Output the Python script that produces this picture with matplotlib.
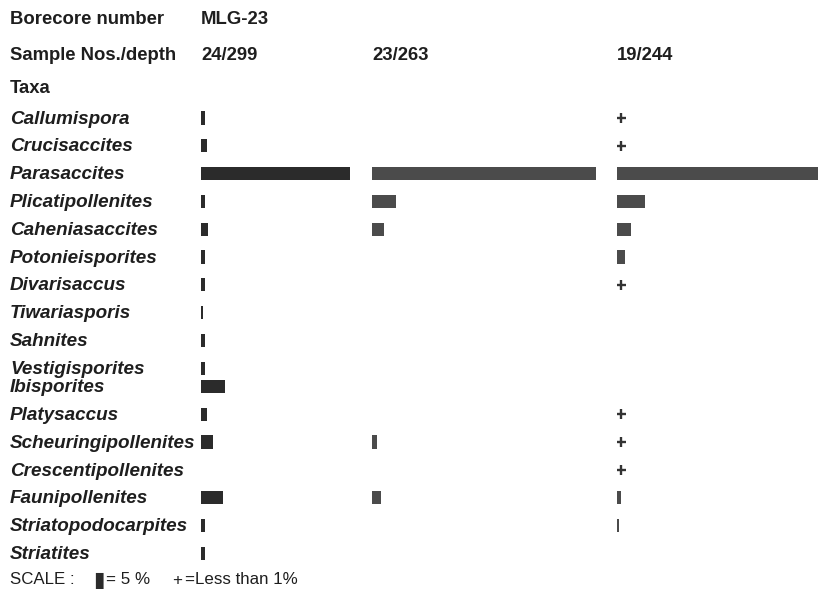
import numpy as np
import matplotlib.pyplot as plt

plt.rcParams['font.family'] = ['Liberation Sans', 'DejaVu Sans']

# Percent frequency of each taxon per sample ('+' = less than 1 %, None = absent)
taxa = ['Callumispora', 'Crucisaccites', 'Parasaccites', 'Plicatipollenites',
        'Caheniasaccites', 'Potonieisporites', 'Divarisaccus', 'Tiwariasporis',
        'Sahnites', 'Vestigisporites', 'Ibisporites', 'Platysaccus',
        'Scheuringipollenites', 'Crescentipollenites', 'Faunipollenites',
        'Striatopodocarpites', 'Striatites']
borecore = 'MLG-23'
samples = ['24/299', '23/263', '19/244']
sample_24 = [1.5, 2.2, 55, 1.5, 2.6, 1.5, 1.5, 0.8, 1.5, 1.5, 9.0, 2.2, 4.4,
             None, 8.2, 1.5, 1.5]
sample_23 = [None, None, 83, 8.8, 4.4, None, None, None, None, None, None, None,
             1.8, None, 3.3, None, None]
sample_19 = ['+', '+', 78, 10.4, 5.2, 3.0, '+', None, None, None, None, '+', '+',
             '+', 1.5, 0.8, None]

W, H = 818, 598
PX_PER_PCT = 2.7
ROW0, PITCH = 118, 27.8
col_left = [201, 372, 617]
col_colors = ['#2b2b2b', '#4b4b4b', '#4b4b4b']
TXT = '#1e1e1e'

n = len(taxa)
idx = np.arange(n)
# rows after Vestigisporites sit a little tighter
row_pos = idx - 0.34 * (idx >= taxa.index('Ibisporites'))
ylim = ((H - ROW0) / PITCH, -ROW0 / PITCH)

fig = plt.figure(figsize=(W / 100, H / 100), dpi=100)

base = fig.add_axes([0, 0, 1, 1])
base.set_xlim(0, W)
base.set_ylim(*ylim)
base.axis('off')


def row_of(px):
    return (px - ROW0) / PITCH


hdr = dict(fontsize=13.3, fontweight='bold', va='center', color=TXT)
base.text(10, row_of(20), 'Borecore number', **hdr)
base.text(col_left[0], row_of(20), borecore, **hdr)
base.text(10, row_of(56), 'Sample Nos./depth', **hdr)
for x, s in zip(col_left, samples):
    base.text(x, row_of(56), s, **hdr)
base.text(10, row_of(88), 'Taxa', **hdr)

# taxon names, nudged a pixel down to sit level with the bars
for y, name in zip(row_pos, taxa):
    base.text(10, y + 0.04, name, fontsize=13.6, fontweight='bold',
              style='italic', va='center', color=TXT)

# scale legend
leg_y = row_of(580)
base.text(10, leg_y, 'SCALE :', fontsize=12.2, va='center', color=TXT)
base.text(93, leg_y, '\u25AE', fontsize=15, va='center', color='#2b2b2b',
          family='DejaVu Sans')
base.text(106, leg_y, '= 5 %', fontsize=12.2, va='center', color=TXT)
base.text(172, leg_y, '+', fontsize=12.2, va='center', color=TXT)
base.text(185, leg_y, '=Less than 1%', fontsize=12.2, va='center', color=TXT)

for left, values, color in zip(col_left, [sample_24, sample_23, sample_19],
                               col_colors):
    ax = fig.add_axes([left / W, 0, (W - left) / W, 1])
    ax.set_xlim(0, (W - left) / PX_PER_PCT)
    ax.set_ylim(*ylim)
    ax.axis('off')
    for y, v in zip(row_pos, values):
        if v is None:
            continue
        if v == '+':
            ax.plot(1.6, y, marker='+', ms=6.5, mew=1.7, color='#333333')
        else:
            ax.barh(y, v, height=0.48, left=0, color=color)

fig.savefig('out.png', dpi=100, facecolor='white')
